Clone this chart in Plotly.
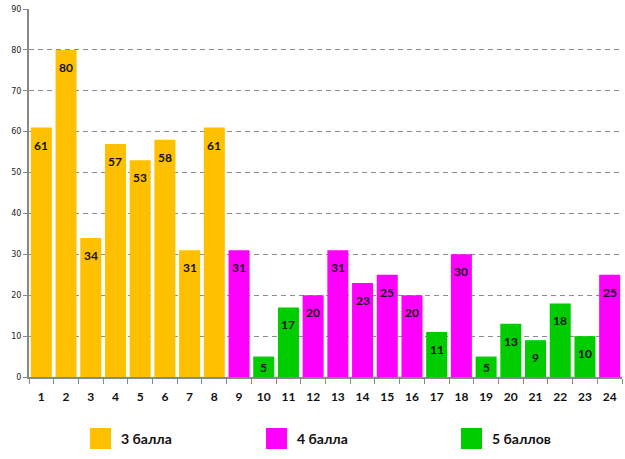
import plotly.graph_objects as go

categories = [str(i) for i in range(1, 25)]
values = [61, 80, 34, 57, 53, 58, 31, 61, 31, 5, 17, 20, 31, 23, 25, 20, 11, 30, 5, 13, 9, 18, 10, 25]
grades = [3, 3, 3, 3, 3, 3, 3, 3, 4, 5, 5, 4, 4, 4, 4, 4, 5, 4, 5, 5, 5, 5, 5, 4]
series_names = {3: "3 балла", 4: "4 балла", 5: "5 баллов"}
series_colors = {3: "#FFC000", 4: "#FF00FF", 5: "#00CC00"}

FONT = "Lato, 'Open Sans', 'DejaVu Sans', sans-serif"

fig = go.Figure()
for g in (3, 4, 5):
    fig.add_trace(go.Bar(
        x=categories,
        y=[v if gr == g else None for v, gr in zip(values, grades)],
        name=series_names[g],
        marker=dict(color=series_colors[g], line=dict(width=0)),
        showlegend=False,
        hoverinfo="x+y",
    ))

# data labels
PX_PER_UNIT = 368 / 90
annotations = []
for i, v in enumerate(values):
    h = v * PX_PER_UNIT
    shift = -min(8, max(0, (h - 18) / 2))
    annotations.append(dict(
        x=i, y=v, xref="x", yref="y", text=f"<b>{v}</b>", showarrow=False,
        yanchor="top", yshift=shift, font=dict(size=12, color="#111", family=FONT),
    ))

# legend drawn at bottom
leg_x = [90, 266, 461]
shapes = []
pl_left, pl_w, pl_bottom, pl_h = 29, 593, 377, 368
for (g, px) in zip((3, 4, 5), leg_x):
    x0 = (px - pl_left) / pl_w
    x1 = (px + 21 - pl_left) / pl_w
    y0 = -(449 - pl_bottom) / pl_h
    y1 = -(428 - pl_bottom) / pl_h
    shapes.append(dict(type="rect", xref="paper", yref="paper", x0=x0, x1=x1, y0=y0, y1=y1,
                       fillcolor=series_colors[g], line=dict(width=0)))
    annotations.append(dict(
        xref="paper", yref="paper", x=(px + 29 - pl_left) / pl_w, y=-(438.5 - pl_bottom) / pl_h,
        xanchor="left", yanchor="middle", text=f"<b>{series_names[g]}</b>", showarrow=False,
        font=dict(size=14, color="#111", family=FONT),
    ))

fig.update_layout(
    width=625, height=459,
    margin=dict(l=29, r=3, t=9, b=82),
    paper_bgcolor="white", plot_bgcolor="white",
    barmode="overlay", bargap=0.15,
    shapes=shapes, annotations=annotations,
    showlegend=False,
)
fig.update_xaxes(
    type="category", tickson="boundaries", ticks="outside", ticklen=5, tickcolor="#888",
    showline=True, linecolor="#888", linewidth=2, showgrid=False,
    tickfont=dict(size=12, color="#111", family=FONT, weight="bold"),
    ticklabelstandoff=8, automargin=False,
)
fig.update_yaxes(
    range=[0, 90], dtick=10, ticks="outside", ticklen=4, tickcolor="#888",
    showline=True, linecolor="#888", linewidth=2,
    showgrid=True, gridcolor="#8c8c8c", griddash="5px,4px", gridwidth=1,
    zeroline=False, automargin=False,
    tickfont=dict(size=8, color="#222", family="DejaVu Sans"),
)
fig.write_html("out.html", config={"displayModeBar": False},
               post_script="document.body.style.margin='0';document.body.style.padding='0';")
